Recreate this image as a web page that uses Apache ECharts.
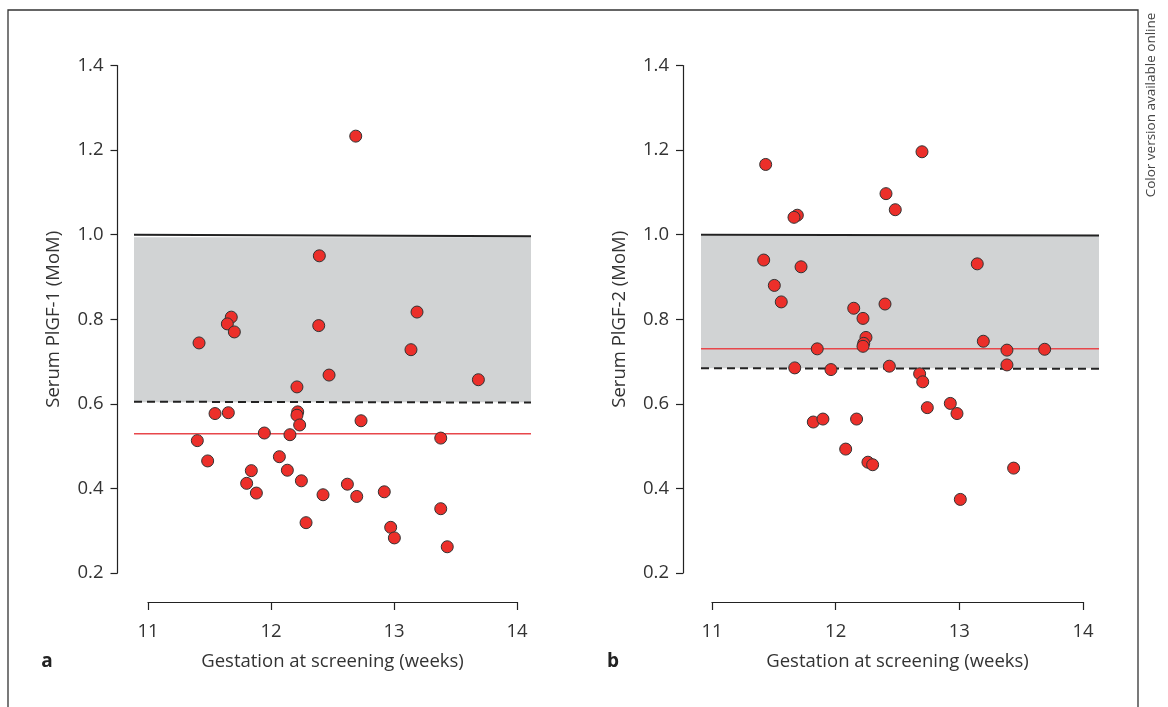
<!DOCTYPE html>
<html>
<head>
<meta charset="utf-8">
<script src="https://cdn.jsdelivr.net/npm/echarts@6/dist/echarts.min.js"></script>
<style>
html,body{margin:0;padding:0;background:#fff;}
#c{width:1168px;height:707px;}
</style>
</head>
<body>
<div id="c"></div>
<script>
// ---- Data ----
const xTicks = [11, 12, 13, 14];
const yTicks = [0.2, 0.4, 0.6, 0.8, 1.0, 1.2, 1.4];

const leftX = [11.677, 11.645, 11.702, 11.415, 12.388, 12.472, 12.211, 11.545, 11.653, 12.217, 12.211, 12.233, 11.946, 12.154, 11.401, 11.485, 12.068, 11.840, 12.133, 11.802, 12.247, 11.881, 12.423, 12.285, 12.689, 12.393, 13.187, 13.138, 13.686, 12.732, 13.380, 12.621, 12.697, 12.921, 13.380, 12.973, 13.003, 13.433];
const leftY = [0.805, 0.789, 0.770, 0.744, 0.785, 0.668, 0.640, 0.577, 0.579, 0.581, 0.573, 0.550, 0.531, 0.527, 0.513, 0.465, 0.475, 0.442, 0.443, 0.412, 0.418, 0.389, 0.385, 0.319, 1.233, 0.950, 0.817, 0.728, 0.657, 0.560, 0.519, 0.410, 0.381, 0.392, 0.352, 0.308, 0.283, 0.262];

const rightX = [11.434, 12.407, 12.482, 11.690, 11.663, 11.418, 11.720, 11.504, 11.560, 12.146, 12.399, 12.221, 12.245, 12.227, 12.221, 11.851, 11.669, 11.962, 12.434, 11.819, 11.897, 12.169, 12.081, 12.261, 12.299, 12.698, 13.145, 13.194, 13.385, 13.690, 13.385, 12.679, 12.704, 12.741, 12.927, 12.981, 13.439, 13.008];
const rightY = [1.166, 1.097, 1.059, 1.046, 1.041, 0.940, 0.924, 0.880, 0.841, 0.826, 0.836, 0.802, 0.757, 0.743, 0.736, 0.730, 0.685, 0.681, 0.689, 0.557, 0.564, 0.564, 0.493, 0.462, 0.456, 1.196, 0.931, 0.748, 0.727, 0.729, 0.692, 0.671, 0.652, 0.591, 0.601, 0.577, 0.448, 0.374];

// reference lines [value at left edge, value at right edge]
const leftUpperLine = [1.000, 0.996];
const leftLowerLine = [0.605, 0.603];
const leftMedianLine = [0.529, 0.529];
const leftBand = [0.604, 0.994];

const rightUpperLine = [1.000, 0.998];
const rightLowerLine = [0.684, 0.683];
const rightMedianLine = [0.730, 0.730];
const rightBand = [0.684, 0.997];

const yTitles = ['Serum PlGF-1 (MoM)', 'Serum PlGF-2 (MoM)'];
const xTitle = 'Gestation at screening (weeks)';
const panelLetters = ['a', 'b'];
const sideNote = 'Color version available online';

// ---- Layout ----
const FONT = 'Open Sans';
const TXT = '#333';
const FS = 18.5;
const plotTop = 65.5, plotH = 507.5;
const panels = [
  {dataL: 134, dataR: 531, tickL: 148, tickR: 517, yAxisX: 117.5},
  {dataL: 701, dataR: 1099, tickL: 712, tickR: 1083, yAxisX: 683}
];
function extent(p) {
  const perW = (p.tickR - p.tickL) / (xTicks[xTicks.length - 1] - xTicks[0]);
  return [xTicks[0] - (p.tickL - p.dataL) / perW, xTicks[xTicks.length - 1] + (p.dataR - p.tickR) / perW];
}
const ext = panels.map(extent);

const grids = [], xAxes = [], yAxes = [], series = [];
const zip = (xs, ys) => xs.map((x, i) => [x, ys[i]]);
const sets = [
  {x: leftX, y: leftY, up: leftUpperLine, lo: leftLowerLine, med: leftMedianLine, band: leftBand},
  {x: rightX, y: rightY, up: rightUpperLine, lo: rightLowerLine, med: rightMedianLine, band: rightBand}
];

panels.forEach((p, k) => {
  const e = ext[k];
  grids.push({left: p.dataL, top: plotTop, width: p.dataR - p.dataL, height: plotH});
  grids.push({left: p.tickL, top: plotTop, width: p.tickR - p.tickL, height: plotH});
  const gData = 2 * k, gTick = 2 * k + 1;
  xAxes.push({gridIndex: gData, type: 'value', min: e[0], max: e[1], show: false});
  xAxes.push({
    gridIndex: gTick, type: 'value', min: xTicks[0], max: xTicks[xTicks.length - 1], interval: 1,
    offset: 29,
    axisLine: {show: true, lineStyle: {color: '#222', width: 1.2}},
    axisTick: {show: true, length: 8, inside: false, lineStyle: {color: '#222', width: 1.2}},
    axisLabel: {show: true, fontFamily: FONT, fontSize: FS, color: TXT, margin: 20},
    splitLine: {show: false},
    name: xTitle, nameLocation: 'middle', nameGap: 50,
    nameTextStyle: {fontFamily: FONT, fontSize: FS, color: TXT}
  });
  yAxes.push({
    gridIndex: gData, type: 'value', min: yTicks[0], max: yTicks[yTicks.length - 1], interval: 0.2,
    offset: p.dataL - p.yAxisX,
    axisLine: {show: true, lineStyle: {color: '#222', width: 1.2}},
    axisTick: {show: true, length: 7, inside: false, lineStyle: {color: '#222', width: 1.2}},
    axisLabel: {show: true, fontFamily: FONT, fontSize: FS, color: TXT, margin: 14,
      formatter: v => v.toFixed(1)},
    splitLine: {show: false},
    name: yTitles[k], nameLocation: 'middle', nameGap: 54, nameRotate: 90,
    nameTextStyle: {fontFamily: FONT, fontSize: FS, color: TXT}
  });
  yAxes.push({gridIndex: gTick, type: 'value', min: yTicks[0], max: yTicks[yTicks.length - 1], show: false});

  const s = sets[k];
  const xi = 2 * k, yi = 2 * k;
  series.push({
    type: 'line', xAxisIndex: xi, yAxisIndex: yi, data: [], silent: true, z: 1,
    markArea: {silent: true, itemStyle: {color: '#d1d3d4', opacity: 1},
      data: [[{coord: [e[0], s.band[0]]}, {coord: [e[1], s.band[1]]}]]}
  });
  series.push({type: 'line', xAxisIndex: xi, yAxisIndex: yi, z: 2, silent: true, symbol: 'none',
    data: [[e[0], s.up[0]], [e[1], s.up[1]]], lineStyle: {color: '#222', width: 2}});
  series.push({type: 'line', xAxisIndex: xi, yAxisIndex: yi, z: 2, silent: true, symbol: 'none',
    data: [[e[0], s.lo[0]], [e[1], s.lo[1]]], lineStyle: {color: '#222', width: 2, type: [8, 5]}});
  series.push({type: 'line', xAxisIndex: xi, yAxisIndex: yi, z: 2, silent: true, symbol: 'none',
    data: [[e[0], s.med[0]], [e[1], s.med[1]]], lineStyle: {color: '#e8474b', width: 1.5}});
  series.push({type: 'scatter', xAxisIndex: xi, yAxisIndex: yi, z: 3, symbolSize: 12,
    data: zip(s.x, s.y),
    itemStyle: {color: '#ec2f2a', borderColor: '#333', borderWidth: 1, opacity: 1}});
});

const chart = echarts.init(document.getElementById('c'), null, {renderer: 'canvas'});
chart.setOption({
  animation: false,
  backgroundColor: '#fff',
  grid: grids, xAxis: xAxes, yAxis: yAxes, series: series,
  graphic: [
    {type: 'rect', shape: {x: 8, y: 10, width: 1130, height: 720},
      style: {fill: 'none', stroke: '#333', lineWidth: 1.3}, silent: true},
    {type: 'text', x: 47, y: 662, style: {text: panelLetters[0], fontFamily: FONT, fontSize: 19,
      fontWeight: 'bold', fill: '#222', align: 'center', verticalAlign: 'middle'}},
    {type: 'text', x: 613, y: 662, style: {text: panelLetters[1], fontFamily: FONT, fontSize: 19,
      fontWeight: 'bold', fill: '#222', align: 'center', verticalAlign: 'middle'}},
    {type: 'text', x: 1151, y: 105, rotation: Math.PI / 2, style: {text: sideNote, fontFamily: FONT,
      fontSize: 13.5, fill: '#444', align: 'center', verticalAlign: 'middle'}}
  ]
});
</script>
</body>
</html>
